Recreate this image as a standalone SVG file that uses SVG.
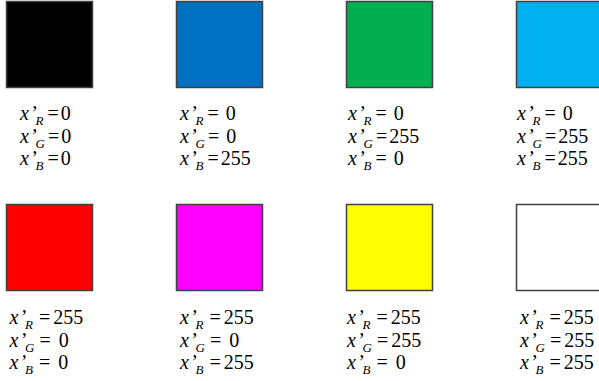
<svg xmlns="http://www.w3.org/2000/svg" width="599" height="381" viewBox="0 0 599 381">
<style>
.sq{stroke:#404040;stroke-width:1.5}
.i{font-style:italic}
.s{font-style:italic;font-size:13px}
</style>
<rect width="599" height="381" fill="#fff"/>
<g font-family="Liberation Serif, Times New Roman, serif" font-size="20" fill="#000">
<g id="black">
<rect class="sq" x="6.5" y="1.5" width="86" height="86" fill="#000000"/>
<text x="20" y="120"><tspan class="i">x</tspan><tspan class="i" dx="1">’</tspan><tspan class="s" dx="-1" dy="5">R</tspan><tspan dx="4" dy="-5">=</tspan><tspan dx="2">0</tspan></text>
<text x="20" y="142.5"><tspan class="i">x</tspan><tspan class="i" dx="1">’</tspan><tspan class="s" dx="-1" dy="5">G</tspan><tspan dx="3" dy="-5">=</tspan><tspan dx="2">0</tspan></text>
<text x="20" y="165"><tspan class="i">x</tspan><tspan class="i" dx="1">’</tspan><tspan class="s" dx="-1" dy="5">B</tspan><tspan dx="4" dy="-5">=</tspan><tspan dx="2">0</tspan></text>
</g>
<g id="blue">
<rect class="sq" x="176.5" y="1.5" width="86" height="86" fill="#0070C0"/>
<text x="180" y="120"><tspan class="i">x</tspan><tspan class="i" dx="1">’</tspan><tspan class="s" dx="-1" dy="5">R</tspan><tspan dx="4" dy="-5">=</tspan><tspan dx="2" xml:space="preserve"> 0</tspan></text>
<text x="180" y="142.5"><tspan class="i">x</tspan><tspan class="i" dx="1">’</tspan><tspan class="s" dx="-1" dy="5">G</tspan><tspan dx="3" dy="-5">=</tspan><tspan dx="2" xml:space="preserve"> 0</tspan></text>
<text x="180" y="165"><tspan class="i">x</tspan><tspan class="i" dx="1">’</tspan><tspan class="s" dx="-1" dy="5">B</tspan><tspan dx="4" dy="-5">=</tspan><tspan dx="2">255</tspan></text>
</g>
<g id="green">
<rect class="sq" x="346.5" y="1.5" width="86" height="86" fill="#00B050"/>
<text x="348" y="120"><tspan class="i">x</tspan><tspan class="i" dx="1">’</tspan><tspan class="s" dx="-1" dy="5">R</tspan><tspan dx="4" dy="-5">=</tspan><tspan dx="2" xml:space="preserve"> 0</tspan></text>
<text x="348" y="142.5"><tspan class="i">x</tspan><tspan class="i" dx="1">’</tspan><tspan class="s" dx="-1" dy="5">G</tspan><tspan dx="3" dy="-5">=</tspan><tspan dx="2">255</tspan></text>
<text x="348" y="165"><tspan class="i">x</tspan><tspan class="i" dx="1">’</tspan><tspan class="s" dx="-1" dy="5">B</tspan><tspan dx="4" dy="-5">=</tspan><tspan dx="2" xml:space="preserve"> 0</tspan></text>
</g>
<g id="cyan">
<rect class="sq" x="516.5" y="1.5" width="86" height="86" fill="#00B0F0"/>
<text x="517" y="120"><tspan class="i">x</tspan><tspan class="i" dx="1">’</tspan><tspan class="s" dx="-1" dy="5">R</tspan><tspan dx="4" dy="-5">=</tspan><tspan dx="2" xml:space="preserve"> 0</tspan></text>
<text x="517" y="142.5"><tspan class="i">x</tspan><tspan class="i" dx="1">’</tspan><tspan class="s" dx="-1" dy="5">G</tspan><tspan dx="3" dy="-5">=</tspan><tspan dx="2">255</tspan></text>
<text x="517" y="165"><tspan class="i">x</tspan><tspan class="i" dx="1">’</tspan><tspan class="s" dx="-1" dy="5">B</tspan><tspan dx="4" dy="-5">=</tspan><tspan dx="2">255</tspan></text>
</g>
<g id="red">
<rect class="sq" x="6.5" y="204.5" width="86" height="86" fill="#FF0000"/>
<text x="9.5" y="324"><tspan class="i">x</tspan><tspan class="i" dx="1">’</tspan><tspan class="s" dx="-1" dy="5">R</tspan><tspan dx="6" dy="-5">=</tspan><tspan dx="3">255</tspan></text>
<text x="9.5" y="346.5"><tspan class="i">x</tspan><tspan class="i" dx="1">’</tspan><tspan class="s" dx="-1" dy="5">G</tspan><tspan dx="5" dy="-5">=</tspan><tspan dx="3" xml:space="preserve"> 0</tspan></text>
<text x="9.5" y="369"><tspan class="i">x</tspan><tspan class="i" dx="1">’</tspan><tspan class="s" dx="-1" dy="5">B</tspan><tspan dx="6" dy="-5">=</tspan><tspan dx="3" xml:space="preserve"> 0</tspan></text>
</g>
<g id="magenta">
<rect class="sq" x="176.5" y="204.5" width="86" height="86" fill="#FF00FF"/>
<text x="180" y="324"><tspan class="i">x</tspan><tspan class="i" dx="1">’</tspan><tspan class="s" dx="-1" dy="5">R</tspan><tspan dx="6" dy="-5">=</tspan><tspan dx="3">255</tspan></text>
<text x="180" y="346.5"><tspan class="i">x</tspan><tspan class="i" dx="1">’</tspan><tspan class="s" dx="-1" dy="5">G</tspan><tspan dx="5" dy="-5">=</tspan><tspan dx="3" xml:space="preserve"> 0</tspan></text>
<text x="180" y="369"><tspan class="i">x</tspan><tspan class="i" dx="1">’</tspan><tspan class="s" dx="-1" dy="5">B</tspan><tspan dx="6" dy="-5">=</tspan><tspan dx="3">255</tspan></text>
</g>
<g id="yellow">
<rect class="sq" x="346.5" y="204.5" width="86" height="86" fill="#FFFF00"/>
<text x="347" y="324"><tspan class="i">x</tspan><tspan class="i" dx="1">’</tspan><tspan class="s" dx="-1" dy="5">R</tspan><tspan dx="6" dy="-5">=</tspan><tspan dx="3">255</tspan></text>
<text x="347" y="346.5"><tspan class="i">x</tspan><tspan class="i" dx="1">’</tspan><tspan class="s" dx="-1" dy="5">G</tspan><tspan dx="5" dy="-5">=</tspan><tspan dx="3">255</tspan></text>
<text x="347" y="369"><tspan class="i">x</tspan><tspan class="i" dx="1">’</tspan><tspan class="s" dx="-1" dy="5">B</tspan><tspan dx="6" dy="-5">=</tspan><tspan dx="3" xml:space="preserve"> 0</tspan></text>
</g>
<g id="white">
<rect class="sq" x="516.5" y="204.5" width="86" height="86" fill="#FFFFFF"/>
<text x="520" y="324"><tspan class="i">x</tspan><tspan class="i" dx="1">’</tspan><tspan class="s" dx="-1" dy="5">R</tspan><tspan dx="6" dy="-5">=</tspan><tspan dx="3">255</tspan></text>
<text x="520" y="346.5"><tspan class="i">x</tspan><tspan class="i" dx="1">’</tspan><tspan class="s" dx="-1" dy="5">G</tspan><tspan dx="5" dy="-5">=</tspan><tspan dx="3">255</tspan></text>
<text x="520" y="369"><tspan class="i">x</tspan><tspan class="i" dx="1">’</tspan><tspan class="s" dx="-1" dy="5">B</tspan><tspan dx="6" dy="-5">=</tspan><tspan dx="3">255</tspan></text>
</g>
</g>
</svg>
